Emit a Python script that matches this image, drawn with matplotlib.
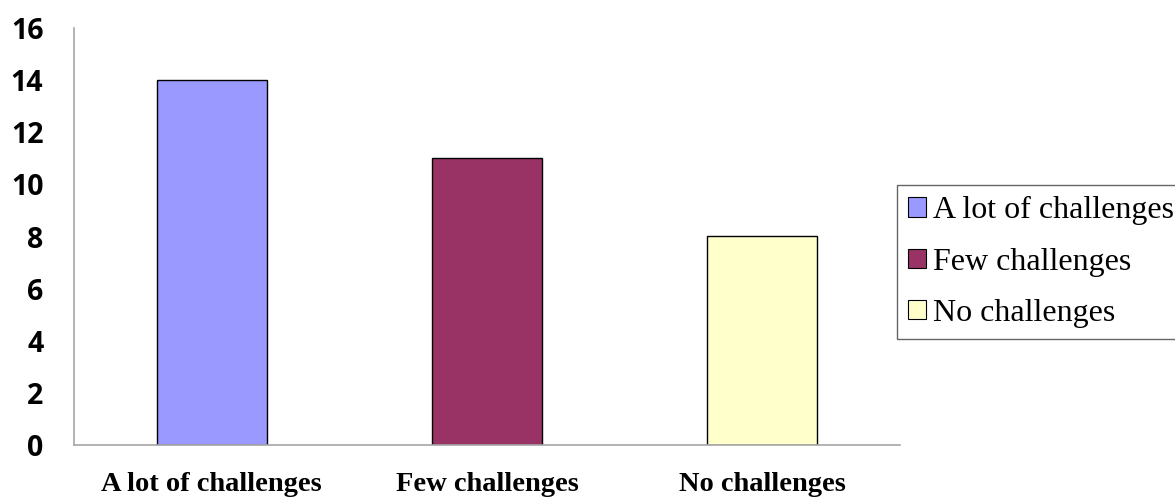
import matplotlib
matplotlib.use("Agg")
import matplotlib.pyplot as plt
from matplotlib.patches import Patch

categories = ["A lot of challenges", "Few challenges", "No challenges"]
values = [14, 11, 8]
colors = ["#9999FF", "#993366", "#FFFFCC"]
yticks = [0, 2, 4, 6, 8, 10, 12, 14, 16]

W, H = 1175, 498
fig = plt.figure(figsize=(W / 100, H / 100), dpi=100)
ax = fig.add_axes([74 / W, 1 - 445 / H, (900 - 74) / W, (445 - 28) / H])

x = list(range(len(categories)))
ax.bar(x, values, width=0.4, color=colors, edgecolor="black", linewidth=1.0)
ax.set_xlim(-0.5, 2.5)
ax.set_ylim(0, 16)
ax.set_yticks(yticks)
ax.set_yticklabels([str(v) for v in yticks], fontfamily="Open Sans",
                   fontweight="bold", fontsize=20.5)
ax.set_xticks(x)
ax.set_xticklabels(categories, fontfamily="Liberation Serif",
                   fontweight="bold", fontsize=20.5)
ax.tick_params(axis="y", length=0, pad=22)
ax.tick_params(axis="x", length=0, pad=19.5)
for s in ["top", "right"]:
    ax.spines[s].set_visible(False)
for s in ["left", "bottom"]:
    ax.spines[s].set_color("#A6A6A6")
    ax.spines[s].set_linewidth(1.2)

handles = [Patch(facecolor=c, edgecolor="black", linewidth=0.8) for c in colors]
leg = fig.legend(handles, categories, loc="upper left",
                 bbox_to_anchor=(897 / W, 1 - 185 / H),
                 prop={"family": "Liberation Serif", "size": 23},
                 frameon=True, fancybox=False, borderaxespad=0,
                 handlelength=0.55, handleheight=0.55, handletextpad=0.22,
                 labelspacing=0.7, borderpad=0.35)
leg.get_frame().set_edgecolor("#404040")
leg.get_frame().set_linewidth(1.0)

fig.savefig("out.png", dpi=100)
